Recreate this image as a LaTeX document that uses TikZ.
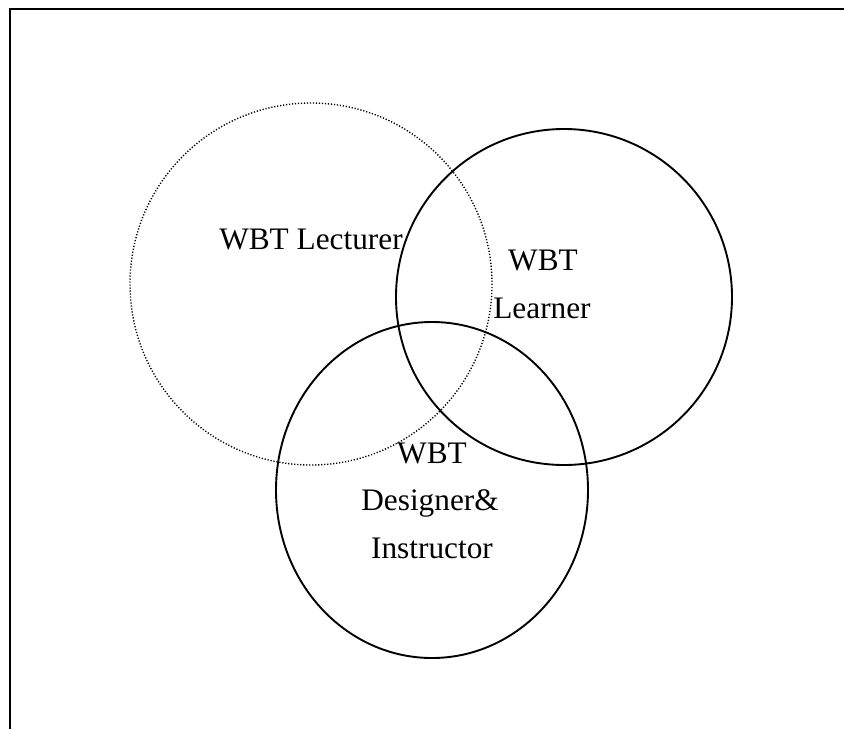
\documentclass[tikz,border=0pt]{standalone}
\usepackage{fontspec}
\setmainfont{Liberation Serif}
\begin{document}
\begin{tikzpicture}[x=1pt,y=-1pt,
  lbl/.style={anchor=base,inner sep=0pt,font=\fontsize{31.3}{36}\selectfont},
  ring/.style={draw=black,line width=1.9pt},
  dotring/.style={draw=black,line width=1.4pt,dash pattern=on 1.2pt off 1.8pt}]
\useasboundingbox (0,0) rectangle (844,729);
\draw[line width=2.2pt] (10,729) -- (10,9) -- (844,9);
\draw[dotring] (311,284) circle[radius=181];
\draw[ring] (564,297) circle[radius=168];
\draw[ring] (432,490) ellipse[x radius=156,y radius=168];
\node[lbl] (lect) at (311,249) {WBT Lecturer};
\node[lbl] (learn1) at (543,270) {WBT};
\node[lbl] (learn2) at (542,318) {Learner};
\node[lbl] (des1) at (432,463) {WBT};
\node[lbl] (des2) at (430,510) {Designer\&};
\node[lbl] (des3) at (432,558) {Instructor};
\end{tikzpicture}
\end{document}
